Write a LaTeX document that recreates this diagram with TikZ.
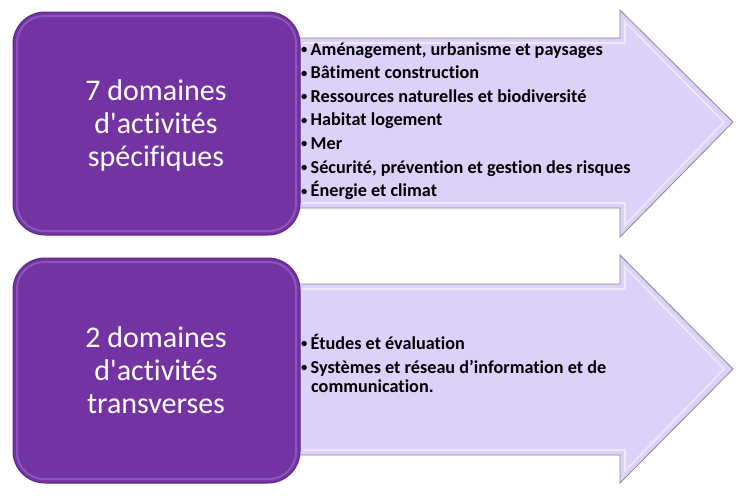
\documentclass[tikz,border=0pt]{standalone}
\usepackage{fontspec}
\newfontfamily\calib{Carlito}[Ligatures={NoCommon,NoContextual}]
\newcommand\smbul{\makebox[9.5pt][l]{\fontsize{12.5}{12}\selectfont\raisebox{1.6pt}{•}}}
\definecolor{boxpurple}{HTML}{7433A2}
\definecolor{boxedge}{HTML}{5C2887}
\definecolor{boxhi}{HTML}{9466C4}
\definecolor{arrowfill}{HTML}{DCD1F9}
\definecolor{arrowline}{HTML}{8A8A8A}
\definecolor{arrowhi}{HTML}{EEE8FD}
\begin{document}
\begin{tikzpicture}[x=1pt,y=-1pt,
  bigbox/.style={fill=boxpurple, draw=boxedge, line width=1pt, rounded corners=32pt},
  boxbevel/.style={draw=boxhi, line width=2pt, rounded corners=27pt, opacity=0.7},
  arrowshape/.style={fill=arrowfill, draw=arrowline, line width=0.8pt, line join=miter},
  arrowbevel/.style={draw=arrowhi, line width=1.6pt},
  bigtext/.style={text=white, font=\calib\fontsize{30}{33}\selectfont, align=center},
  item/.style={anchor=base west, inner sep=0pt, font=\calib\bfseries\fontsize{18.2}{19}\selectfont}]
\useasboundingbox (0,0) rectangle (741,501);
% top arrow
\draw[arrowshape] (298,38) -- (620,38) -- (620,10) -- (733,122) -- (620,237) -- (620,208) -- (298,208) -- cycle;
\draw[arrowbevel] (303,43) -- (625,43) -- (625,22) -- (724,122) -- (625,225) -- (625,203) -- (303,203);
% bottom arrow
\draw[arrowshape] (298,284) -- (620,284) -- (620,255) -- (733,369) -- (620,483) -- (620,455) -- (298,455) -- cycle;
\draw[arrowbevel] (303,289) -- (625,289) -- (625,267) -- (724,369) -- (625,471) -- (625,450) -- (303,450);
% boxes
\draw[bigbox] (13,12) rectangle (300,235);
\draw[boxbevel] (17,16) rectangle (296,231);
\draw[bigbox] (13,258) rectangle (300,483);
\draw[boxbevel] (17,262) rectangle (296,479);
\node[bigtext] (t1) at (156,125) {7 domaines\\d'activités\\spécifiques};
\node[bigtext] (t2) at (156,370) {2 domaines\\d'activités\\transverses};
% top list
\foreach \t [count=\i from 0] in {{Aménagement, urbanisme et paysages}, Bâtiment construction, Ressources naturelles et biodiversité, Habitat logement, Mer, {Sécurité, prévention et gestion des risques}, Énergie et climat}{
  \node[item] (l\i) at (301,55+23.6*\i) {\smbul\t};
}
% bottom list
\node[item] (m0) at (301,349) {\smbul Études et évaluation};
\node[item] (m1) at (301,373) {\smbul Systèmes et réseau d’information et de};
\node[item] (m2) at (301,392) {\makebox[10pt]{}communication.};
\end{tikzpicture}
\end{document}
